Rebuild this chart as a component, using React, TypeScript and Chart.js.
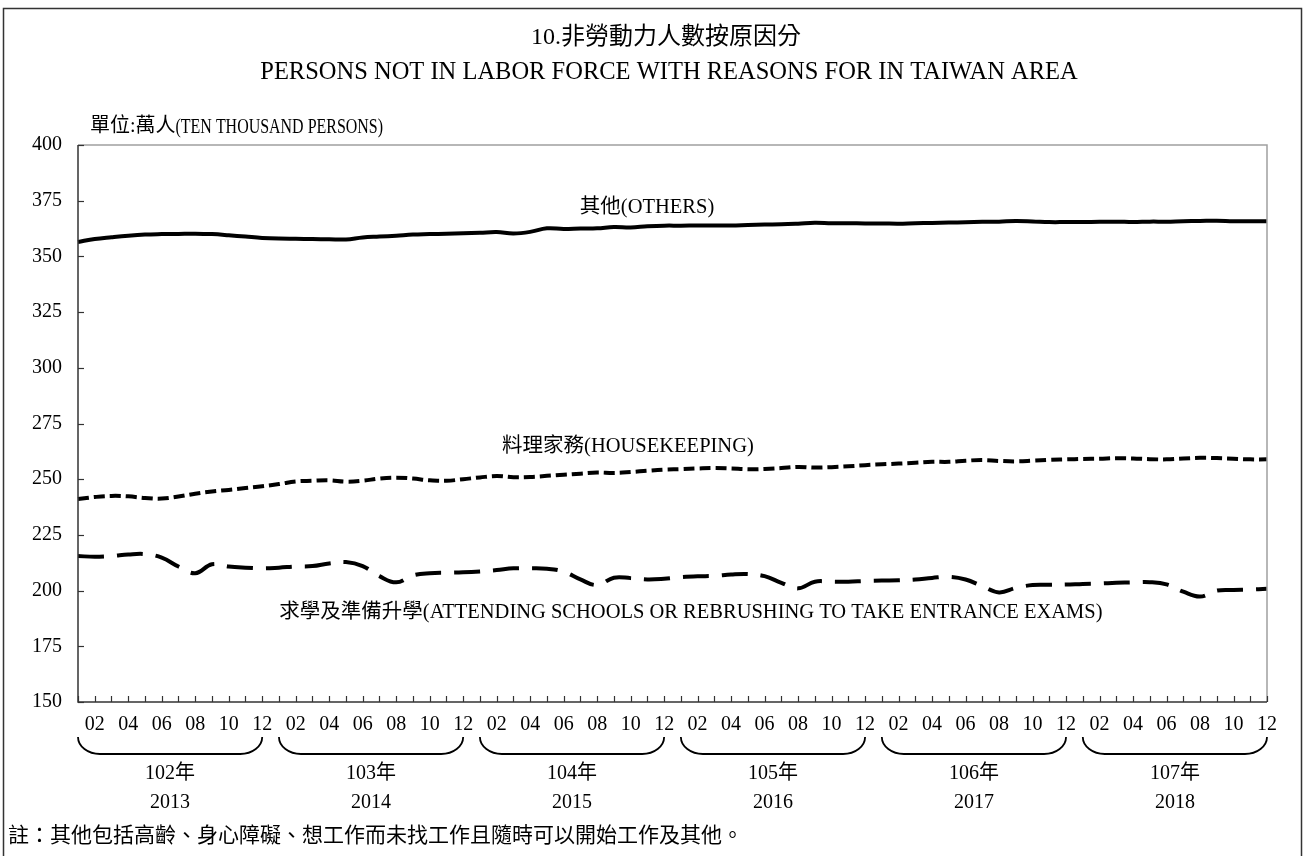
import { useEffect, useRef } from "react";
import { Chart, registerables } from "chart.js";

Chart.register(...registerables);

// ---------- data ----------
const YEARS = ["2013", "2014", "2015", "2016", "2017", "2018"];
const ROC_YEARS = ["102年", "103年", "104年", "105年", "106年", "107年"];
const MONTHS = ["01", "02", "03", "04", "05", "06", "07", "08", "09", "10", "11", "12"];
const CATEGORIES = YEARS.flatMap((y) => MONTHS.map((m) => `${y}-${m}`));

const OTHERS = [
  356.5, 357.8, 358.6, 359.3, 359.8, 360.0, 360.1, 360.2, 360.0, 359.5, 358.9, 358.3,
  358.0, 357.9, 357.8, 357.7, 357.6, 358.5, 358.9, 359.3, 359.8, 360.0, 360.2, 360.4,
  360.6, 360.9, 360.3, 361.0, 362.6, 362.3, 362.5, 362.6, 363.2, 363.0, 363.5, 363.8,
  363.8, 363.9, 363.9, 363.9, 364.1, 364.3, 364.4, 364.7, 365.1, 364.9, 364.9, 364.8,
  364.8, 364.7, 364.9, 365.0, 365.2, 365.3, 365.5, 365.6, 365.9, 365.7, 365.4, 365.4,
  365.4, 365.5, 365.6, 365.4, 365.6, 365.6, 365.8, 365.9, 366.0, 365.8, 365.8, 365.8,
];

const HOUSEKEEPING = [
  241.1, 242.0, 242.5, 242.3, 241.6, 241.3, 242.2, 243.5, 244.5, 245.2, 246.0, 246.8,
  247.8, 249.0, 249.3, 249.5, 248.9, 249.3, 250.3, 250.7, 250.3, 249.5, 249.3, 250.0,
  250.8, 251.4, 250.9, 251.0, 251.5, 252.0, 252.5, 253.0, 252.8, 253.2, 253.8, 254.3,
  254.5, 254.8, 255.0, 254.8, 254.5, 254.6, 255.0, 255.5, 255.2, 255.4, 255.8, 256.3,
  256.7, 257.0, 257.4, 257.8, 257.8, 258.3, 258.6, 258.2, 258.0, 258.3, 258.7, 258.9,
  259.1, 259.2, 259.4, 259.3, 259.0, 258.9, 259.3, 259.6, 259.5, 259.2, 258.9, 258.9,
];

const SCHOOLING = [
  215.5, 215.2, 215.5, 216.2, 216.4, 214.8, 210.8, 207.8, 211.8, 210.8, 210.3, 210.0,
  210.3, 210.8, 211.0, 212.2, 212.8, 211.0, 206.5, 203.7, 206.8, 207.8, 208.0, 208.2,
  208.6, 209.2, 210.0, 210.0, 209.8, 208.5, 205.0, 202.5, 205.8, 205.6, 205.0, 205.3,
  206.0, 206.4, 206.6, 207.2, 207.4, 206.5, 203.5, 201.0, 204.0, 204.0, 204.0, 204.3,
  204.5, 204.6, 205.0, 205.7, 206.2, 205.0, 202.0, 199.2, 201.2, 202.5, 202.6, 202.7,
  203.0, 203.2, 203.5, 203.7, 203.8, 202.8, 199.5, 197.3, 200.0, 200.3, 200.5, 200.8,
];

const SERIES_NAMES = [
  "其他(OTHERS)",
  "料理家務(HOUSEKEEPING)",
  "求學及準備升學(ATTENDING SCHOOLS OR REBRUSHING TO TAKE ENTRANCE EXAMS)",
];

const Y_MIN = 150;
const Y_MAX = 400;
const Y_STEP = 25;

const TITLE_ZH = "10.非勞動力人數按原因分";
const TITLE_EN = "PERSONS NOT IN LABOR FORCE WITH REASONS FOR IN TAIWAN AREA";
const UNIT_ZH = "單位:萬人";
const UNIT_EN = "(TEN THOUSAND PERSONS)";
const NOTE_TEXT = "註：其他包括高齡、身心障礙、想工作而未找工作且隨時可以開始工作及其他。";

// ---------- layout / style ----------
const W = 1304;
const H = 856;
const FONT = "'Liberation Serif', 'Times New Roman', 'Noto Sans CJK TC', serif";
// label anchors in data units: [category index, value]
const LABEL_ANCHORS: [number, number][] = [
  [33.98, 371.7],
  [32.84, 264.5],
  [36.6, 189.9],
];

const decorPlugin = {
  id: "decor",
  beforeDraw(chart: any) {
    const { ctx } = chart;
    ctx.save();
    ctx.fillStyle = "#ffffff";
    ctx.fillRect(0, 0, W, H);
    ctx.strokeStyle = "#333";
    ctx.lineWidth = 1.5;
    ctx.strokeRect(3.5, 8.5, 1298, 900);
    ctx.restore();
  },
  afterDraw(chart: any) {
    const { ctx, chartArea: a, scales } = chart;
    const x = scales.x;
    const y = scales.y;
    ctx.save();
    // frame
    ctx.lineWidth = 1.5;
    ctx.strokeStyle = "#a0a0a0";
    ctx.beginPath();
    ctx.moveTo(a.left, a.top);
    ctx.lineTo(a.right, a.top);
    ctx.lineTo(a.right, a.bottom);
    ctx.stroke();
    ctx.strokeStyle = "#333";
    ctx.beginPath();
    ctx.moveTo(a.left, a.top);
    ctx.lineTo(a.left, a.bottom);
    ctx.lineTo(a.right, a.bottom);
    ctx.stroke();
    // y ticks (inward)
    ctx.lineWidth = 1.2;
    y.ticks.forEach((t: any) => {
      const py = Math.round(y.getPixelForValue(t.value)) + 0.5;
      ctx.beginPath();
      ctx.moveTo(a.left, py);
      ctx.lineTo(a.left + 6, py);
      ctx.stroke();
    });
    // x ticks (inward, every month)
    CATEGORIES.forEach((_, i) => {
      const px = Math.round(x.getPixelForValue(i)) + 0.5;
      ctx.beginPath();
      ctx.moveTo(px, a.bottom);
      ctx.lineTo(px, a.bottom - 6);
      ctx.stroke();
    });
    // year brackets and labels
    const top = a.bottom + 35;
    const bot = a.bottom + 52;
    const rx = 22;
    ctx.strokeStyle = "#000";
    ctx.lineWidth = 1.8;
    ctx.fillStyle = "#000";
    ctx.textAlign = "center";
    ctx.textBaseline = "middle";
    ctx.font = `20px ${FONT}`;
    YEARS.forEach((yr, k) => {
      const xs = x.getPixelForValue(k * 12);
      const xe = x.getPixelForValue(k * 12 + 11);
      ctx.beginPath();
      ctx.ellipse(xs + rx, top, rx, bot - top, 0, Math.PI, Math.PI / 2, true);
      ctx.lineTo(xe - rx, bot);
      ctx.ellipse(xe - rx, top, rx, bot - top, 0, Math.PI / 2, 0, true);
      ctx.stroke();
      const cx = (xs + xe) / 2;
      ctx.fillText(ROC_YEARS[k], cx, a.bottom + 72);
      ctx.fillText(yr, cx, a.bottom + 101);
    });
    // titles
    ctx.font = `24px ${FONT}`;
    ctx.fillText(TITLE_ZH, 666, 38);
    ctx.font = `24.5px ${FONT}`;
    ctx.fillText(TITLE_EN, 669, 73);
    // unit (latin part drawn narrower, as in the original)
    ctx.textAlign = "left";
    ctx.font = `20px ${FONT}`;
    ctx.fillText(UNIT_ZH, 90, 127);
    const zhW = ctx.measureText(UNIT_ZH).width;
    ctx.font = `22px ${FONT}`;
    const enW = ctx.measureText(UNIT_EN).width;
    const targetEn = 383 - (90 + zhW);
    ctx.save();
    ctx.translate(90 + zhW, 127);
    ctx.scale(targetEn / enW, 1);
    ctx.fillText(UNIT_EN, 0, 0);
    ctx.restore();
    // note
    ctx.font = `21px ${FONT}`;
    ctx.fillText(NOTE_TEXT, 8, 836);
    // series labels
    ctx.textAlign = "center";
    ctx.font = `20.5px ${FONT}`;
    SERIES_NAMES.forEach((name, k) => {
      const [i, v] = LABEL_ANCHORS[k];
      ctx.fillText(name, x.getPixelForValue(i), y.getPixelForValue(v));
    });
    ctx.restore();
  },
};

export default function App() {
  const ref = useRef<HTMLCanvasElement>(null);
  useEffect(() => {
    document.body.style.margin = "0";
    const chart = new Chart(ref.current as HTMLCanvasElement, {
      type: "line",
      data: {
        labels: CATEGORIES,
        datasets: [
          {
            label: SERIES_NAMES[0],
            data: OTHERS,
            borderColor: "#000",
            borderWidth: 4,
            pointRadius: 0,
            tension: 0.4,
            fill: false,
          },
          {
            label: SERIES_NAMES[1],
            data: HOUSEKEEPING,
            borderColor: "#000",
            borderWidth: 4,
            borderDash: [11, 5],
            pointRadius: 0,
            tension: 0.4,
            fill: false,
          },
          {
            label: SERIES_NAMES[2],
            data: SCHOOLING,
            borderColor: "#000",
            borderWidth: 4,
            borderDash: [26, 13],
            pointRadius: 0,
            tension: 0.4,
            fill: false,
          },
        ],
      },
      options: {
        responsive: false,
        animation: false,
        devicePixelRatio: 1,
        layout: { padding: { left: 8, top: 145, right: 37, bottom: 114 } },
        plugins: { legend: { display: false }, title: { display: false }, tooltip: { enabled: false } },
        scales: {
          x: {
            type: "category",
            offset: false,
            grid: { display: false, drawTicks: false },
            border: { display: false },
            ticks: {
              autoSkip: false,
              maxRotation: 0,
              minRotation: 0,
              padding: 11,
              color: "#000",
              font: { family: FONT, size: 20 },
              callback: (_v: any, i: number) => (i % 2 === 1 ? MONTHS[i % 12] : ""),
            },
            afterFit: (s: any) => {
              s.height = 40;
            },
          },
          y: {
            min: Y_MIN,
            max: Y_MAX,
            grid: { display: false, drawTicks: false },
            border: { display: false },
            ticks: {
              stepSize: Y_STEP,
              padding: 16,
              color: "#000",
              font: { family: FONT, size: 20 },
            },
            afterFit: (s: any) => {
              s.width = 70;
            },
          },
        },
      },
      plugins: [decorPlugin],
    });
    return () => chart.destroy();
  }, []);
  return (
    <div style={{ position: "absolute", left: 0, top: 0, width: W, height: H }}>
      <canvas ref={ref} width={W} height={H} style={{ width: W, height: H }} />
    </div>
  );
}
